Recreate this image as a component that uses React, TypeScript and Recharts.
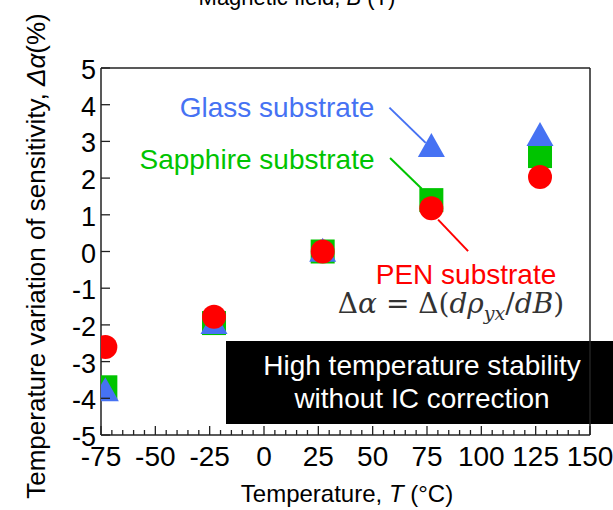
import React from 'react';
import { ScatterChart, Scatter, XAxis, YAxis, ReferenceLine } from 'recharts';

// ---- data ----
const temperatures = [-73, -23, 27, 77, 127];
const glassValues = [-3.75, -1.92, 0.05, 2.9, 3.2];
const sapphireValues = [-3.7, -1.95, 0, 1.4, 2.6];
const penValues = [-2.6, -1.78, 0, 1.18, 2.03];

const xTicks = [-75, -70, -65, -60, -55, -50, -45, -40, -35, -30, -25, -20, -15, -10, -5, 0, 5, 10, 15, 20, 25, 30, 35, 40, 45, 50, 55, 60, 65, 70, 75, 80, 85, 90, 95, 100, 105, 110, 115, 120, 125, 130, 135, 140, 145, 150];
const xLabelTicks = [-75, -50, -25, 0, 25, 50, 75, 100, 125, 150];
const yTicks = [-5, -4, -3, -2, -1, 0, 1, 2, 3, 4, 5];

// annotation leader lines (data coordinates)
const glassLeader = [{ x: 57.7, y: 3.92 }, { x: 74.4, y: 2.96 }];
const sapphireLeader = [{ x: 58, y: 2.55 }, { x: 72.6, y: 1.71 }];
const penLeader = [{ x: 80.1, y: 0.87 }, { x: 93.9, y: 0.01 }];

const BLUE = '#4672F3';
const GREEN = '#00C400';
const RED = '#FF0000';
const AXIS = '#222';
const FONT = '"Liberation Sans", Arial, sans-serif';

const toPoints = (vals: number[]) => temperatures.map((t, i) => ({ x: t, y: vals[i] }));
const glassData = toPoints(glassValues);
const sapphireData = toPoints(sapphireValues);
const penData = toPoints(penValues);

const XTick = (props: any) => {
  const { x, y, payload } = props;
  const v = payload.value;
  const major = xLabelTicks.includes(v);
  return (
    <g>
      <line x1={x} x2={x} y1={y} y2={y - (major ? 9 : 5)} stroke={AXIS} strokeWidth={1.3} />
      {major && (
        <text x={x} y={y + 31} textAnchor="middle" fontSize={28} fontFamily={FONT} fill="#000">
          {v}
        </text>
      )}
    </g>
  );
};

const YTick = (props: any) => {
  const { x, y, payload } = props;
  return (
    <g>
      <line x1={x} x2={x + 9} y1={y} y2={y} stroke={AXIS} strokeWidth={1.3} />
      <text x={x - 5} y={y + 11} textAnchor="end" fontSize={27} fontFamily={FONT} fill="#000">
        {payload.value}
      </text>
    </g>
  );
};

const Circle = (p: any) => <circle cx={p.cx} cy={p.cy} r={12} fill={RED} />;
const Square = (p: any) => <rect x={p.cx - 12} y={p.cy - 12} width={24} height={24} fill={GREEN} />;
const Triangle = (p: any) => (
  <polygon
    points={`${p.cx},${p.cy - 12} ${p.cx - 13.5},${p.cy + 12} ${p.cx + 13.5},${p.cy + 12}`}
    fill={BLUE}
  />
);

export default function App() {
  return (
    <div style={{ position: 'absolute', left: 0, top: 0, width: 613, height: 510, background: '#fff' }}>
      <ScatterChart width={613} height={510} margin={{ top: 68, right: 23, bottom: 70, left: 96 }}>
        <XAxis
          type="number"
          dataKey="x"
          domain={[-75, 150]}
          ticks={xTicks}
          interval={0}
          height={5}
          tickSize={0}
          tickMargin={0}
          tickLine={false}
          axisLine={{ stroke: AXIS, strokeWidth: 1.5 }}
          tick={<XTick />}
          allowDataOverflow
        />
        <YAxis
          type="number"
          dataKey="y"
          domain={[-5, 5]}
          ticks={yTicks}
          interval={0}
          width={5}
          tickSize={0}
          tickMargin={0}
          tickLine={false}
          axisLine={{ stroke: AXIS, strokeWidth: 1.5 }}
          tick={<YTick />}
          allowDataOverflow
        />
        <ReferenceLine y={5} stroke={AXIS} strokeWidth={1.5} />
        <ReferenceLine x={150} stroke={AXIS} strokeWidth={1.5} />
        <ReferenceLine segment={glassLeader} stroke={BLUE} strokeWidth={2} />
        <ReferenceLine segment={sapphireLeader} stroke={GREEN} strokeWidth={2} />
        <ReferenceLine segment={penLeader} stroke={RED} strokeWidth={2} />
        <Scatter name="Sapphire substrate" data={sapphireData} shape={Square} isAnimationActive={false} />
        <Scatter name="Glass substrate" data={glassData} shape={Triangle} isAnimationActive={false} />
        <Scatter name="PEN substrate" data={penData} shape={Circle} isAnimationActive={false} />

        <text x={297} y={5} textAnchor="middle" fontSize={22} fontFamily={FONT} fill="#000">
          Magnetic field, <tspan fontStyle="italic">B</tspan> (T)
        </text>
        <text transform="translate(45,256) rotate(-90)" textAnchor="middle" fontSize={26} fontFamily={FONT} fill="#000">
          Temperature variation of sensitivity, <tspan fontStyle="italic">Δα</tspan>(%)
        </text>
        <text x={347} y={502} textAnchor="middle" fontSize={24} fontFamily={FONT} fill="#000">
          Temperature, <tspan fontStyle="italic">T</tspan> (°C)
        </text>

        <text x={277} y={117} textAnchor="middle" fontSize={28} fontFamily={FONT} fill={BLUE}>Glass substrate</text>
        <text x={257} y={169} textAnchor="middle" fontSize={28} fontFamily={FONT} fill={GREEN}>Sapphire substrate</text>
        <text x={466} y={284} textAnchor="middle" fontSize={28} fontFamily={FONT} fill={RED}>PEN substrate</text>
        <text x={451} y={313} textAnchor="middle" fontSize={28} fontFamily='"DejaVu Serif", "Liberation Serif", serif' fill="#333">
          Δ<tspan fontStyle="italic">α</tspan> = Δ(<tspan fontStyle="italic">dρ</tspan>
          <tspan fontStyle="italic" fontSize={19} dy={7}>yx</tspan>
          <tspan dy={-7}>/</tspan><tspan fontStyle="italic">dB</tspan>)
        </text>

        <rect x={226} y={341} width={387} height={83} fill="#000" />
        <text x={422} y={375} textAnchor="middle" fontSize={28} fontFamily={FONT} fill="#fff">High temperature stability</text>
        <text x={422} y={408} textAnchor="middle" fontSize={28} fontFamily={FONT} fill="#fff">without IC correction</text>
      </ScatterChart>
    </div>
  );
}
